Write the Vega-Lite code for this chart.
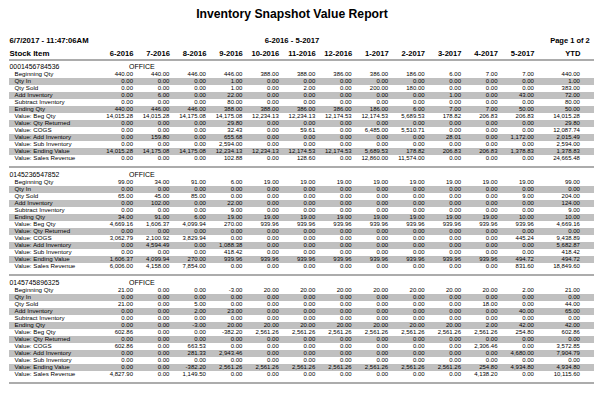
{
"$schema":"https://vega.github.io/schema/vega-lite/v6.json",
"padding":{"left":8,"top":8,"right":7,"bottom":5},
"spacing":0,
"title":{"text":"Inventory Snapshot Value Report","subtitle":"6-2016 - 5-2017","anchor":"middle","dx":-9.5,"offset":-8,"font":"Liberation Sans","fontSize":12.2,"fontWeight":"bold","color":"#000","subtitleFont":"Liberation Sans","subtitleFontSize":7.7,"subtitleFontWeight":"bold","subtitleColor":"#000","subtitlePadding":16.5},
"config":{"view":{"stroke":null},"locale":{"number":{"decimal":".","thousands":",","grouping":[3],"currency":["$",""],"minus":"-"}}},
"datasets":{
"item1":[
{"metric":"Beginning Qty","month":"6-2016","value":440},{"metric":"Beginning Qty","month":"7-2016","value":440},{"metric":"Beginning Qty","month":"8-2016","value":446},{"metric":"Beginning Qty","month":"9-2016","value":446},{"metric":"Beginning Qty","month":"10-2016","value":388},{"metric":"Beginning Qty","month":"11-2016","value":388},{"metric":"Beginning Qty","month":"12-2016","value":386},{"metric":"Beginning Qty","month":"1-2017","value":386},{"metric":"Beginning Qty","month":"2-2017","value":186},{"metric":"Beginning Qty","month":"3-2017","value":6},{"metric":"Beginning Qty","month":"4-2017","value":7},{"metric":"Beginning Qty","month":"5-2017","value":7},{"metric":"Beginning Qty","month":"YTD","value":440},
{"metric":"Qty In","month":"6-2016","value":0},{"metric":"Qty In","month":"7-2016","value":0},{"metric":"Qty In","month":"8-2016","value":0},{"metric":"Qty In","month":"9-2016","value":1},{"metric":"Qty In","month":"10-2016","value":0},{"metric":"Qty In","month":"11-2016","value":0},{"metric":"Qty In","month":"12-2016","value":0},{"metric":"Qty In","month":"1-2017","value":0},{"metric":"Qty In","month":"2-2017","value":0},{"metric":"Qty In","month":"3-2017","value":0},{"metric":"Qty In","month":"4-2017","value":0},{"metric":"Qty In","month":"5-2017","value":0},{"metric":"Qty In","month":"YTD","value":1},
{"metric":"Qty Sold","month":"6-2016","value":0},{"metric":"Qty Sold","month":"7-2016","value":0},{"metric":"Qty Sold","month":"8-2016","value":0},{"metric":"Qty Sold","month":"9-2016","value":1},{"metric":"Qty Sold","month":"10-2016","value":0},{"metric":"Qty Sold","month":"11-2016","value":2},{"metric":"Qty Sold","month":"12-2016","value":0},{"metric":"Qty Sold","month":"1-2017","value":200},{"metric":"Qty Sold","month":"2-2017","value":180},{"metric":"Qty Sold","month":"3-2017","value":0},{"metric":"Qty Sold","month":"4-2017","value":0},{"metric":"Qty Sold","month":"5-2017","value":0},{"metric":"Qty Sold","month":"YTD","value":383},
{"metric":"Add Inventory","month":"6-2016","value":0},{"metric":"Add Inventory","month":"7-2016","value":6},{"metric":"Add Inventory","month":"8-2016","value":0},{"metric":"Add Inventory","month":"9-2016","value":22},{"metric":"Add Inventory","month":"10-2016","value":0},{"metric":"Add Inventory","month":"11-2016","value":0},{"metric":"Add Inventory","month":"12-2016","value":0},{"metric":"Add Inventory","month":"1-2017","value":0},{"metric":"Add Inventory","month":"2-2017","value":0},{"metric":"Add Inventory","month":"3-2017","value":1},{"metric":"Add Inventory","month":"4-2017","value":0},{"metric":"Add Inventory","month":"5-2017","value":43},{"metric":"Add Inventory","month":"YTD","value":72},
{"metric":"Subtract Inventory","month":"6-2016","value":0},{"metric":"Subtract Inventory","month":"7-2016","value":0},{"metric":"Subtract Inventory","month":"8-2016","value":0},{"metric":"Subtract Inventory","month":"9-2016","value":80},{"metric":"Subtract Inventory","month":"10-2016","value":0},{"metric":"Subtract Inventory","month":"11-2016","value":0},{"metric":"Subtract Inventory","month":"12-2016","value":0},{"metric":"Subtract Inventory","month":"1-2017","value":0},{"metric":"Subtract Inventory","month":"2-2017","value":0},{"metric":"Subtract Inventory","month":"3-2017","value":0},{"metric":"Subtract Inventory","month":"4-2017","value":0},{"metric":"Subtract Inventory","month":"5-2017","value":0},{"metric":"Subtract Inventory","month":"YTD","value":80},
{"metric":"Ending Qty","month":"6-2016","value":440},{"metric":"Ending Qty","month":"7-2016","value":446},{"metric":"Ending Qty","month":"8-2016","value":446},{"metric":"Ending Qty","month":"9-2016","value":388},{"metric":"Ending Qty","month":"10-2016","value":388},{"metric":"Ending Qty","month":"11-2016","value":386},{"metric":"Ending Qty","month":"12-2016","value":386},{"metric":"Ending Qty","month":"1-2017","value":186},{"metric":"Ending Qty","month":"2-2017","value":6},{"metric":"Ending Qty","month":"3-2017","value":7},{"metric":"Ending Qty","month":"4-2017","value":7},{"metric":"Ending Qty","month":"5-2017","value":50},{"metric":"Ending Qty","month":"YTD","value":50},
{"metric":"Value: Beg Qty","month":"6-2016","value":14015.28},{"metric":"Value: Beg Qty","month":"7-2016","value":14015.28},{"metric":"Value: Beg Qty","month":"8-2016","value":14175.08},{"metric":"Value: Beg Qty","month":"9-2016","value":14175.08},{"metric":"Value: Beg Qty","month":"10-2016","value":12234.13},{"metric":"Value: Beg Qty","month":"11-2016","value":12234.13},{"metric":"Value: Beg Qty","month":"12-2016","value":12174.53},{"metric":"Value: Beg Qty","month":"1-2017","value":12174.53},{"metric":"Value: Beg Qty","month":"2-2017","value":5689.53},{"metric":"Value: Beg Qty","month":"3-2017","value":178.82},{"metric":"Value: Beg Qty","month":"4-2017","value":206.83},{"metric":"Value: Beg Qty","month":"5-2017","value":206.83},{"metric":"Value: Beg Qty","month":"YTD","value":14015.28},
{"metric":"Value: Qty Returned","month":"6-2016","value":0},{"metric":"Value: Qty Returned","month":"7-2016","value":0},{"metric":"Value: Qty Returned","month":"8-2016","value":0},{"metric":"Value: Qty Returned","month":"9-2016","value":29.8},{"metric":"Value: Qty Returned","month":"10-2016","value":0},{"metric":"Value: Qty Returned","month":"11-2016","value":0},{"metric":"Value: Qty Returned","month":"12-2016","value":0},{"metric":"Value: Qty Returned","month":"1-2017","value":0},{"metric":"Value: Qty Returned","month":"2-2017","value":0},{"metric":"Value: Qty Returned","month":"3-2017","value":0},{"metric":"Value: Qty Returned","month":"4-2017","value":0},{"metric":"Value: Qty Returned","month":"5-2017","value":0},{"metric":"Value: Qty Returned","month":"YTD","value":29.8},
{"metric":"Value: COGS","month":"6-2016","value":0},{"metric":"Value: COGS","month":"7-2016","value":0},{"metric":"Value: COGS","month":"8-2016","value":0},{"metric":"Value: COGS","month":"9-2016","value":32.43},{"metric":"Value: COGS","month":"10-2016","value":0},{"metric":"Value: COGS","month":"11-2016","value":59.61},{"metric":"Value: COGS","month":"12-2016","value":0},{"metric":"Value: COGS","month":"1-2017","value":6485},{"metric":"Value: COGS","month":"2-2017","value":5510.71},{"metric":"Value: COGS","month":"3-2017","value":0},{"metric":"Value: COGS","month":"4-2017","value":0},{"metric":"Value: COGS","month":"5-2017","value":0},{"metric":"Value: COGS","month":"YTD","value":12087.74},
{"metric":"Value: Add Inventory","month":"6-2016","value":0},{"metric":"Value: Add Inventory","month":"7-2016","value":159.8},{"metric":"Value: Add Inventory","month":"8-2016","value":0},{"metric":"Value: Add Inventory","month":"9-2016","value":655.68},{"metric":"Value: Add Inventory","month":"10-2016","value":0},{"metric":"Value: Add Inventory","month":"11-2016","value":0},{"metric":"Value: Add Inventory","month":"12-2016","value":0},{"metric":"Value: Add Inventory","month":"1-2017","value":0},{"metric":"Value: Add Inventory","month":"2-2017","value":0},{"metric":"Value: Add Inventory","month":"3-2017","value":28.01},{"metric":"Value: Add Inventory","month":"4-2017","value":0},{"metric":"Value: Add Inventory","month":"5-2017","value":1172},{"metric":"Value: Add Inventory","month":"YTD","value":2015.49},
{"metric":"Value: Sub Inventory","month":"6-2016","value":0},{"metric":"Value: Sub Inventory","month":"7-2016","value":0},{"metric":"Value: Sub Inventory","month":"8-2016","value":0},{"metric":"Value: Sub Inventory","month":"9-2016","value":2594},{"metric":"Value: Sub Inventory","month":"10-2016","value":0},{"metric":"Value: Sub Inventory","month":"11-2016","value":0},{"metric":"Value: Sub Inventory","month":"12-2016","value":0},{"metric":"Value: Sub Inventory","month":"1-2017","value":0},{"metric":"Value: Sub Inventory","month":"2-2017","value":0},{"metric":"Value: Sub Inventory","month":"3-2017","value":0},{"metric":"Value: Sub Inventory","month":"4-2017","value":0},{"metric":"Value: Sub Inventory","month":"5-2017","value":0},{"metric":"Value: Sub Inventory","month":"YTD","value":2594},
{"metric":"Value: Ending Value","month":"6-2016","value":14015.28},{"metric":"Value: Ending Value","month":"7-2016","value":14175.08},{"metric":"Value: Ending Value","month":"8-2016","value":14175.08},{"metric":"Value: Ending Value","month":"9-2016","value":12234.13},{"metric":"Value: Ending Value","month":"10-2016","value":12234.13},{"metric":"Value: Ending Value","month":"11-2016","value":12174.53},{"metric":"Value: Ending Value","month":"12-2016","value":12174.53},{"metric":"Value: Ending Value","month":"1-2017","value":5689.53},{"metric":"Value: Ending Value","month":"2-2017","value":178.82},{"metric":"Value: Ending Value","month":"3-2017","value":206.83},{"metric":"Value: Ending Value","month":"4-2017","value":206.83},{"metric":"Value: Ending Value","month":"5-2017","value":1378.83},{"metric":"Value: Ending Value","month":"YTD","value":1378.83},
{"metric":"Value: Sales Revenue","month":"6-2016","value":0},{"metric":"Value: Sales Revenue","month":"7-2016","value":0},{"metric":"Value: Sales Revenue","month":"8-2016","value":0},{"metric":"Value: Sales Revenue","month":"9-2016","value":102.88},{"metric":"Value: Sales Revenue","month":"10-2016","value":0},{"metric":"Value: Sales Revenue","month":"11-2016","value":128.6},{"metric":"Value: Sales Revenue","month":"12-2016","value":0},{"metric":"Value: Sales Revenue","month":"1-2017","value":12860},{"metric":"Value: Sales Revenue","month":"2-2017","value":11574},{"metric":"Value: Sales Revenue","month":"3-2017","value":0},{"metric":"Value: Sales Revenue","month":"4-2017","value":0},{"metric":"Value: Sales Revenue","month":"5-2017","value":0},{"metric":"Value: Sales Revenue","month":"YTD","value":24665.48}
],
"item2":[
{"metric":"Beginning Qty","month":"6-2016","value":99},{"metric":"Beginning Qty","month":"7-2016","value":34},{"metric":"Beginning Qty","month":"8-2016","value":91},{"metric":"Beginning Qty","month":"9-2016","value":6},{"metric":"Beginning Qty","month":"10-2016","value":19},{"metric":"Beginning Qty","month":"11-2016","value":19},{"metric":"Beginning Qty","month":"12-2016","value":19},{"metric":"Beginning Qty","month":"1-2017","value":19},{"metric":"Beginning Qty","month":"2-2017","value":19},{"metric":"Beginning Qty","month":"3-2017","value":19},{"metric":"Beginning Qty","month":"4-2017","value":19},{"metric":"Beginning Qty","month":"5-2017","value":19},{"metric":"Beginning Qty","month":"YTD","value":99},
{"metric":"Qty In","month":"6-2016","value":0},{"metric":"Qty In","month":"7-2016","value":0},{"metric":"Qty In","month":"8-2016","value":0},{"metric":"Qty In","month":"9-2016","value":0},{"metric":"Qty In","month":"10-2016","value":0},{"metric":"Qty In","month":"11-2016","value":0},{"metric":"Qty In","month":"12-2016","value":0},{"metric":"Qty In","month":"1-2017","value":0},{"metric":"Qty In","month":"2-2017","value":0},{"metric":"Qty In","month":"3-2017","value":0},{"metric":"Qty In","month":"4-2017","value":0},{"metric":"Qty In","month":"5-2017","value":0},{"metric":"Qty In","month":"YTD","value":0},
{"metric":"Qty Sold","month":"6-2016","value":65},{"metric":"Qty Sold","month":"7-2016","value":45},{"metric":"Qty Sold","month":"8-2016","value":85},{"metric":"Qty Sold","month":"9-2016","value":0},{"metric":"Qty Sold","month":"10-2016","value":0},{"metric":"Qty Sold","month":"11-2016","value":0},{"metric":"Qty Sold","month":"12-2016","value":0},{"metric":"Qty Sold","month":"1-2017","value":0},{"metric":"Qty Sold","month":"2-2017","value":0},{"metric":"Qty Sold","month":"3-2017","value":0},{"metric":"Qty Sold","month":"4-2017","value":0},{"metric":"Qty Sold","month":"5-2017","value":9},{"metric":"Qty Sold","month":"YTD","value":204},
{"metric":"Add Inventory","month":"6-2016","value":0},{"metric":"Add Inventory","month":"7-2016","value":102},{"metric":"Add Inventory","month":"8-2016","value":0},{"metric":"Add Inventory","month":"9-2016","value":22},{"metric":"Add Inventory","month":"10-2016","value":0},{"metric":"Add Inventory","month":"11-2016","value":0},{"metric":"Add Inventory","month":"12-2016","value":0},{"metric":"Add Inventory","month":"1-2017","value":0},{"metric":"Add Inventory","month":"2-2017","value":0},{"metric":"Add Inventory","month":"3-2017","value":0},{"metric":"Add Inventory","month":"4-2017","value":0},{"metric":"Add Inventory","month":"5-2017","value":0},{"metric":"Add Inventory","month":"YTD","value":124},
{"metric":"Subtract Inventory","month":"6-2016","value":0},{"metric":"Subtract Inventory","month":"7-2016","value":0},{"metric":"Subtract Inventory","month":"8-2016","value":0},{"metric":"Subtract Inventory","month":"9-2016","value":9},{"metric":"Subtract Inventory","month":"10-2016","value":0},{"metric":"Subtract Inventory","month":"11-2016","value":0},{"metric":"Subtract Inventory","month":"12-2016","value":0},{"metric":"Subtract Inventory","month":"1-2017","value":0},{"metric":"Subtract Inventory","month":"2-2017","value":0},{"metric":"Subtract Inventory","month":"3-2017","value":0},{"metric":"Subtract Inventory","month":"4-2017","value":0},{"metric":"Subtract Inventory","month":"5-2017","value":0},{"metric":"Subtract Inventory","month":"YTD","value":9},
{"metric":"Ending Qty","month":"6-2016","value":34},{"metric":"Ending Qty","month":"7-2016","value":91},{"metric":"Ending Qty","month":"8-2016","value":6},{"metric":"Ending Qty","month":"9-2016","value":19},{"metric":"Ending Qty","month":"10-2016","value":19},{"metric":"Ending Qty","month":"11-2016","value":19},{"metric":"Ending Qty","month":"12-2016","value":19},{"metric":"Ending Qty","month":"1-2017","value":19},{"metric":"Ending Qty","month":"2-2017","value":19},{"metric":"Ending Qty","month":"3-2017","value":19},{"metric":"Ending Qty","month":"4-2017","value":19},{"metric":"Ending Qty","month":"5-2017","value":10},{"metric":"Ending Qty","month":"YTD","value":10},
{"metric":"Value: Beg Qty","month":"6-2016","value":4669.16},{"metric":"Value: Beg Qty","month":"7-2016","value":1606.37},{"metric":"Value: Beg Qty","month":"8-2016","value":4099.94},{"metric":"Value: Beg Qty","month":"9-2016","value":270},{"metric":"Value: Beg Qty","month":"10-2016","value":939.96},{"metric":"Value: Beg Qty","month":"11-2016","value":939.96},{"metric":"Value: Beg Qty","month":"12-2016","value":939.96},{"metric":"Value: Beg Qty","month":"1-2017","value":939.96},{"metric":"Value: Beg Qty","month":"2-2017","value":939.96},{"metric":"Value: Beg Qty","month":"3-2017","value":939.96},{"metric":"Value: Beg Qty","month":"4-2017","value":939.96},{"metric":"Value: Beg Qty","month":"5-2017","value":939.96},{"metric":"Value: Beg Qty","month":"YTD","value":4669.16},
{"metric":"Value: Qty Returned","month":"6-2016","value":0},{"metric":"Value: Qty Returned","month":"7-2016","value":0},{"metric":"Value: Qty Returned","month":"8-2016","value":0},{"metric":"Value: Qty Returned","month":"9-2016","value":0},{"metric":"Value: Qty Returned","month":"10-2016","value":0},{"metric":"Value: Qty Returned","month":"11-2016","value":0},{"metric":"Value: Qty Returned","month":"12-2016","value":0},{"metric":"Value: Qty Returned","month":"1-2017","value":0},{"metric":"Value: Qty Returned","month":"2-2017","value":0},{"metric":"Value: Qty Returned","month":"3-2017","value":0},{"metric":"Value: Qty Returned","month":"4-2017","value":0},{"metric":"Value: Qty Returned","month":"5-2017","value":0},{"metric":"Value: Qty Returned","month":"YTD","value":0},
{"metric":"Value: COGS","month":"6-2016","value":3062.79},{"metric":"Value: COGS","month":"7-2016","value":2100.92},{"metric":"Value: COGS","month":"8-2016","value":3829.94},{"metric":"Value: COGS","month":"9-2016","value":0},{"metric":"Value: COGS","month":"10-2016","value":0},{"metric":"Value: COGS","month":"11-2016","value":0},{"metric":"Value: COGS","month":"12-2016","value":0},{"metric":"Value: COGS","month":"1-2017","value":0},{"metric":"Value: COGS","month":"2-2017","value":0},{"metric":"Value: COGS","month":"3-2017","value":0},{"metric":"Value: COGS","month":"4-2017","value":0},{"metric":"Value: COGS","month":"5-2017","value":445.24},{"metric":"Value: COGS","month":"YTD","value":9438.89},
{"metric":"Value: Add Inventory","month":"6-2016","value":0},{"metric":"Value: Add Inventory","month":"7-2016","value":4594.49},{"metric":"Value: Add Inventory","month":"8-2016","value":0},{"metric":"Value: Add Inventory","month":"9-2016","value":1088.38},{"metric":"Value: Add Inventory","month":"10-2016","value":0},{"metric":"Value: Add Inventory","month":"11-2016","value":0},{"metric":"Value: Add Inventory","month":"12-2016","value":0},{"metric":"Value: Add Inventory","month":"1-2017","value":0},{"metric":"Value: Add Inventory","month":"2-2017","value":0},{"metric":"Value: Add Inventory","month":"3-2017","value":0},{"metric":"Value: Add Inventory","month":"4-2017","value":0},{"metric":"Value: Add Inventory","month":"5-2017","value":0},{"metric":"Value: Add Inventory","month":"YTD","value":5682.87},
{"metric":"Value: Sub Inventory","month":"6-2016","value":0},{"metric":"Value: Sub Inventory","month":"7-2016","value":0},{"metric":"Value: Sub Inventory","month":"8-2016","value":0},{"metric":"Value: Sub Inventory","month":"9-2016","value":418.42},{"metric":"Value: Sub Inventory","month":"10-2016","value":0},{"metric":"Value: Sub Inventory","month":"11-2016","value":0},{"metric":"Value: Sub Inventory","month":"12-2016","value":0},{"metric":"Value: Sub Inventory","month":"1-2017","value":0},{"metric":"Value: Sub Inventory","month":"2-2017","value":0},{"metric":"Value: Sub Inventory","month":"3-2017","value":0},{"metric":"Value: Sub Inventory","month":"4-2017","value":0},{"metric":"Value: Sub Inventory","month":"5-2017","value":0},{"metric":"Value: Sub Inventory","month":"YTD","value":418.42},
{"metric":"Value: Ending Value","month":"6-2016","value":1606.37},{"metric":"Value: Ending Value","month":"7-2016","value":4099.94},{"metric":"Value: Ending Value","month":"8-2016","value":270},{"metric":"Value: Ending Value","month":"9-2016","value":939.96},{"metric":"Value: Ending Value","month":"10-2016","value":939.96},{"metric":"Value: Ending Value","month":"11-2016","value":939.96},{"metric":"Value: Ending Value","month":"12-2016","value":939.96},{"metric":"Value: Ending Value","month":"1-2017","value":939.96},{"metric":"Value: Ending Value","month":"2-2017","value":939.96},{"metric":"Value: Ending Value","month":"3-2017","value":939.96},{"metric":"Value: Ending Value","month":"4-2017","value":939.96},{"metric":"Value: Ending Value","month":"5-2017","value":494.72},{"metric":"Value: Ending Value","month":"YTD","value":494.72},
{"metric":"Value: Sales Revenue","month":"6-2016","value":6006},{"metric":"Value: Sales Revenue","month":"7-2016","value":4158},{"metric":"Value: Sales Revenue","month":"8-2016","value":7854},{"metric":"Value: Sales Revenue","month":"9-2016","value":0},{"metric":"Value: Sales Revenue","month":"10-2016","value":0},{"metric":"Value: Sales Revenue","month":"11-2016","value":0},{"metric":"Value: Sales Revenue","month":"12-2016","value":0},{"metric":"Value: Sales Revenue","month":"1-2017","value":0},{"metric":"Value: Sales Revenue","month":"2-2017","value":0},{"metric":"Value: Sales Revenue","month":"3-2017","value":0},{"metric":"Value: Sales Revenue","month":"4-2017","value":0},{"metric":"Value: Sales Revenue","month":"5-2017","value":831.6},{"metric":"Value: Sales Revenue","month":"YTD","value":18849.6}
],
"item3":[
{"metric":"Beginning Qty","month":"6-2016","value":21},{"metric":"Beginning Qty","month":"7-2016","value":0},{"metric":"Beginning Qty","month":"8-2016","value":0},{"metric":"Beginning Qty","month":"9-2016","value":-3},{"metric":"Beginning Qty","month":"10-2016","value":20},{"metric":"Beginning Qty","month":"11-2016","value":20},{"metric":"Beginning Qty","month":"12-2016","value":20},{"metric":"Beginning Qty","month":"1-2017","value":20},{"metric":"Beginning Qty","month":"2-2017","value":20},{"metric":"Beginning Qty","month":"3-2017","value":20},{"metric":"Beginning Qty","month":"4-2017","value":20},{"metric":"Beginning Qty","month":"5-2017","value":2},{"metric":"Beginning Qty","month":"YTD","value":21},
{"metric":"Qty In","month":"6-2016","value":0},{"metric":"Qty In","month":"7-2016","value":0},{"metric":"Qty In","month":"8-2016","value":0},{"metric":"Qty In","month":"9-2016","value":0},{"metric":"Qty In","month":"10-2016","value":0},{"metric":"Qty In","month":"11-2016","value":0},{"metric":"Qty In","month":"12-2016","value":0},{"metric":"Qty In","month":"1-2017","value":0},{"metric":"Qty In","month":"2-2017","value":0},{"metric":"Qty In","month":"3-2017","value":0},{"metric":"Qty In","month":"4-2017","value":0},{"metric":"Qty In","month":"5-2017","value":0},{"metric":"Qty In","month":"YTD","value":0},
{"metric":"Qty Sold","month":"6-2016","value":21},{"metric":"Qty Sold","month":"7-2016","value":0},{"metric":"Qty Sold","month":"8-2016","value":5},{"metric":"Qty Sold","month":"9-2016","value":0},{"metric":"Qty Sold","month":"10-2016","value":0},{"metric":"Qty Sold","month":"11-2016","value":0},{"metric":"Qty Sold","month":"12-2016","value":0},{"metric":"Qty Sold","month":"1-2017","value":0},{"metric":"Qty Sold","month":"2-2017","value":0},{"metric":"Qty Sold","month":"3-2017","value":0},{"metric":"Qty Sold","month":"4-2017","value":18},{"metric":"Qty Sold","month":"5-2017","value":0},{"metric":"Qty Sold","month":"YTD","value":44},
{"metric":"Add Inventory","month":"6-2016","value":0},{"metric":"Add Inventory","month":"7-2016","value":0},{"metric":"Add Inventory","month":"8-2016","value":2},{"metric":"Add Inventory","month":"9-2016","value":23},{"metric":"Add Inventory","month":"10-2016","value":0},{"metric":"Add Inventory","month":"11-2016","value":0},{"metric":"Add Inventory","month":"12-2016","value":0},{"metric":"Add Inventory","month":"1-2017","value":0},{"metric":"Add Inventory","month":"2-2017","value":0},{"metric":"Add Inventory","month":"3-2017","value":0},{"metric":"Add Inventory","month":"4-2017","value":0},{"metric":"Add Inventory","month":"5-2017","value":40},{"metric":"Add Inventory","month":"YTD","value":65},
{"metric":"Subtract Inventory","month":"6-2016","value":0},{"metric":"Subtract Inventory","month":"7-2016","value":0},{"metric":"Subtract Inventory","month":"8-2016","value":0},{"metric":"Subtract Inventory","month":"9-2016","value":0},{"metric":"Subtract Inventory","month":"10-2016","value":0},{"metric":"Subtract Inventory","month":"11-2016","value":0},{"metric":"Subtract Inventory","month":"12-2016","value":0},{"metric":"Subtract Inventory","month":"1-2017","value":0},{"metric":"Subtract Inventory","month":"2-2017","value":0},{"metric":"Subtract Inventory","month":"3-2017","value":0},{"metric":"Subtract Inventory","month":"4-2017","value":0},{"metric":"Subtract Inventory","month":"5-2017","value":0},{"metric":"Subtract Inventory","month":"YTD","value":0},
{"metric":"Ending Qty","month":"6-2016","value":0},{"metric":"Ending Qty","month":"7-2016","value":0},{"metric":"Ending Qty","month":"8-2016","value":-3},{"metric":"Ending Qty","month":"9-2016","value":20},{"metric":"Ending Qty","month":"10-2016","value":20},{"metric":"Ending Qty","month":"11-2016","value":20},{"metric":"Ending Qty","month":"12-2016","value":20},{"metric":"Ending Qty","month":"1-2017","value":20},{"metric":"Ending Qty","month":"2-2017","value":20},{"metric":"Ending Qty","month":"3-2017","value":20},{"metric":"Ending Qty","month":"4-2017","value":2},{"metric":"Ending Qty","month":"5-2017","value":42},{"metric":"Ending Qty","month":"YTD","value":42},
{"metric":"Value: Beg Qty","month":"6-2016","value":602.86},{"metric":"Value: Beg Qty","month":"7-2016","value":0},{"metric":"Value: Beg Qty","month":"8-2016","value":0},{"metric":"Value: Beg Qty","month":"9-2016","value":-382.2},{"metric":"Value: Beg Qty","month":"10-2016","value":2561.26},{"metric":"Value: Beg Qty","month":"11-2016","value":2561.26},{"metric":"Value: Beg Qty","month":"12-2016","value":2561.26},{"metric":"Value: Beg Qty","month":"1-2017","value":2561.26},{"metric":"Value: Beg Qty","month":"2-2017","value":2561.26},{"metric":"Value: Beg Qty","month":"3-2017","value":2561.26},{"metric":"Value: Beg Qty","month":"4-2017","value":2561.26},{"metric":"Value: Beg Qty","month":"5-2017","value":254.8},{"metric":"Value: Beg Qty","month":"YTD","value":602.86},
{"metric":"Value: Qty Returned","month":"6-2016","value":0},{"metric":"Value: Qty Returned","month":"7-2016","value":0},{"metric":"Value: Qty Returned","month":"8-2016","value":0},{"metric":"Value: Qty Returned","month":"9-2016","value":0},{"metric":"Value: Qty Returned","month":"10-2016","value":0},{"metric":"Value: Qty Returned","month":"11-2016","value":0},{"metric":"Value: Qty Returned","month":"12-2016","value":0},{"metric":"Value: Qty Returned","month":"1-2017","value":0},{"metric":"Value: Qty Returned","month":"2-2017","value":0},{"metric":"Value: Qty Returned","month":"3-2017","value":0},{"metric":"Value: Qty Returned","month":"4-2017","value":0},{"metric":"Value: Qty Returned","month":"5-2017","value":0},{"metric":"Value: Qty Returned","month":"YTD","value":0},
{"metric":"Value: COGS","month":"6-2016","value":602.86},{"metric":"Value: COGS","month":"7-2016","value":0},{"metric":"Value: COGS","month":"8-2016","value":663.53},{"metric":"Value: COGS","month":"9-2016","value":0},{"metric":"Value: COGS","month":"10-2016","value":0},{"metric":"Value: COGS","month":"11-2016","value":0},{"metric":"Value: COGS","month":"12-2016","value":0},{"metric":"Value: COGS","month":"1-2017","value":0},{"metric":"Value: COGS","month":"2-2017","value":0},{"metric":"Value: COGS","month":"3-2017","value":0},{"metric":"Value: COGS","month":"4-2017","value":2306.46},{"metric":"Value: COGS","month":"5-2017","value":0},{"metric":"Value: COGS","month":"YTD","value":3572.85},
{"metric":"Value: Add Inventory","month":"6-2016","value":0},{"metric":"Value: Add Inventory","month":"7-2016","value":0},{"metric":"Value: Add Inventory","month":"8-2016","value":281.33},{"metric":"Value: Add Inventory","month":"9-2016","value":2943.46},{"metric":"Value: Add Inventory","month":"10-2016","value":0},{"metric":"Value: Add Inventory","month":"11-2016","value":0},{"metric":"Value: Add Inventory","month":"12-2016","value":0},{"metric":"Value: Add Inventory","month":"1-2017","value":0},{"metric":"Value: Add Inventory","month":"2-2017","value":0},{"metric":"Value: Add Inventory","month":"3-2017","value":0},{"metric":"Value: Add Inventory","month":"4-2017","value":0},{"metric":"Value: Add Inventory","month":"5-2017","value":4680},{"metric":"Value: Add Inventory","month":"YTD","value":7904.79},
{"metric":"Value: Sub Inventory","month":"6-2016","value":0},{"metric":"Value: Sub Inventory","month":"7-2016","value":0},{"metric":"Value: Sub Inventory","month":"8-2016","value":0},{"metric":"Value: Sub Inventory","month":"9-2016","value":0},{"metric":"Value: Sub Inventory","month":"10-2016","value":0},{"metric":"Value: Sub Inventory","month":"11-2016","value":0},{"metric":"Value: Sub Inventory","month":"12-2016","value":0},{"metric":"Value: Sub Inventory","month":"1-2017","value":0},{"metric":"Value: Sub Inventory","month":"2-2017","value":0},{"metric":"Value: Sub Inventory","month":"3-2017","value":0},{"metric":"Value: Sub Inventory","month":"4-2017","value":0},{"metric":"Value: Sub Inventory","month":"5-2017","value":0},{"metric":"Value: Sub Inventory","month":"YTD","value":0},
{"metric":"Value: Ending Value","month":"6-2016","value":0},{"metric":"Value: Ending Value","month":"7-2016","value":0},{"metric":"Value: Ending Value","month":"8-2016","value":-382.2},{"metric":"Value: Ending Value","month":"9-2016","value":2561.26},{"metric":"Value: Ending Value","month":"10-2016","value":2561.26},{"metric":"Value: Ending Value","month":"11-2016","value":2561.26},{"metric":"Value: Ending Value","month":"12-2016","value":2561.26},{"metric":"Value: Ending Value","month":"1-2017","value":2561.26},{"metric":"Value: Ending Value","month":"2-2017","value":2561.26},{"metric":"Value: Ending Value","month":"3-2017","value":2561.26},{"metric":"Value: Ending Value","month":"4-2017","value":254.8},{"metric":"Value: Ending Value","month":"5-2017","value":4934.8},{"metric":"Value: Ending Value","month":"YTD","value":4934.8},
{"metric":"Value: Sales Revenue","month":"6-2016","value":4827.9},{"metric":"Value: Sales Revenue","month":"7-2016","value":0},{"metric":"Value: Sales Revenue","month":"8-2016","value":1149.5},{"metric":"Value: Sales Revenue","month":"9-2016","value":0},{"metric":"Value: Sales Revenue","month":"10-2016","value":0},{"metric":"Value: Sales Revenue","month":"11-2016","value":0},{"metric":"Value: Sales Revenue","month":"12-2016","value":0},{"metric":"Value: Sales Revenue","month":"1-2017","value":0},{"metric":"Value: Sales Revenue","month":"2-2017","value":0},{"metric":"Value: Sales Revenue","month":"3-2017","value":0},{"metric":"Value: Sales Revenue","month":"4-2017","value":4138.2},{"metric":"Value: Sales Revenue","month":"5-2017","value":0},{"metric":"Value: Sales Revenue","month":"YTD","value":10115.6}
]
},
"vconcat":[
{"width":585,"height":107,
"title":{"text":"Page 1 of 2","anchor":"end","offset":-8,"dx":-5,"font":"Liberation Sans","fontSize":7.5,"fontWeight":"bold","color":"#000"},
"data":{"name":"item1"},
"encoding":{"y":{"field":"metric","type":"nominal","scale":{"type":"band","domain":["0001456784536","Beginning Qty","Qty In","Qty Sold","Add Inventory","Subtract Inventory","Ending Qty","Value: Beg Qty","Value: Qty Returned","Value: COGS","Value: Add Inventory","Value: Sub Inventory","Value: Ending Value","Value: Sales Revenue"],"paddingInner":0,"paddingOuter":0.643,"align":0.444},
"axis":{"title":"Stock Item","titleAngle":0,"titleAlign":"left","titleBaseline":"alphabetic","titleX":0,"titleY":-4.5,"titleFont":"Liberation Sans","titleFontSize":7.9,"titleFontWeight":"bold","titleColor":"#000","domain":false,"ticks":false,"tickSize":0,"labelAlign":"left","labelBaseline":"middle","labelColor":"#000","labelFont":"Liberation Sans","labelPadding":{"condition":{"test":"datum.value === '0001456784536'","value":0},"value":-5},"labelFontSize":{"condition":{"test":"datum.value === '0001456784536'","value":6.9},"value":6.2}}}},
"layer":[
{"transform":[{"filter":{"and":[{"field":"month","equal":"YTD"},{"field":"metric","oneOf":["Qty In","Add Inventory","Ending Qty","Value: Qty Returned","Value: Add Inventory","Value: Ending Value"]}]}}],"mark":{"type":"rect","fill":"#c0c0c0"}},
{"data":{"values":[{}]},"mark":{"type":"rule","color":"#909090","strokeWidth":1.6},"encoding":{"y":{"datum":"0001456784536","bandPosition":-0.5714}}},
{"data":{"values":[{}]},"mark":{"type":"rule","color":"#909090","strokeWidth":1.6},"encoding":{"y":{"datum":"Value: Sales Revenue","bandPosition":1.714}}},
{"transform":[{"filter":"datum.month !== 'YTD'"}],"mark":{"type":"text","align":"right","baseline":"middle","font":"Liberation Sans","fontSize":6,"color":"#000"},
"encoding":{"x":{"field":"month","type":"nominal","scale":{"type":"point","domain":["6-2016","7-2016","8-2016","9-2016","10-2016","11-2016","12-2016","1-2017","2-2017","3-2017","4-2017","5-2017","YTD"],"range":[124,561.4],"padding":0},
"axis":{"orient":"top","title":"6/7/2017 - 11:47:06AM","titleAnchor":"start","titleAlign":"left","titleBaseline":"alphabetic","titleX":0,"titleY":-17.5,"titleFont":"Liberation Sans","titleFontSize":7.7,"titleFontWeight":"bold","titleColor":"#000","labelFont":"Liberation Sans","labelFontSize":7.6,"labelFontWeight":"bold","labelColor":"#000","labelAlign":"right","labelBaseline":"alphabetic","labelAngle":0,"labelPadding":4.5,"labelOffset":{"condition":{"test":"datum.value === 'YTD'","value":9.5},"value":0},"ticks":false,"tickSize":0,"domain":false}},
"text":{"field":"value","type":"quantitative","format":",.2f"}}},
{"transform":[{"filter":"datum.month === 'YTD'"}],"mark":{"type":"text","align":"right","baseline":"middle","font":"Liberation Sans","fontSize":6,"color":"#000","dx":9.5},
"encoding":{"x":{"field":"month","type":"nominal","scale":{"domain":["6-2016","7-2016","8-2016","9-2016","10-2016","11-2016","12-2016","1-2017","2-2017","3-2017","4-2017","5-2017","YTD"]}},
"text":{"field":"value","type":"quantitative","format":",.2f"}}},
{"data":{"values":[{"item":"0001456784536","location":"OFFICE"}]},"mark":{"type":"text","align":"left","baseline":"middle","dx":-4,"font":"Liberation Sans","fontSize":7,"color":"#000"},
"encoding":{"x":{"datum":"6-2016","type":"nominal"},"y":{"field":"item","type":"nominal"},"text":{"field":"location"}}}
]},
{"width":585,"height":107,
"data":{"name":"item2"},
"encoding":{"y":{"field":"metric","type":"nominal","scale":{"type":"band","domain":["0145236547852","Beginning Qty","Qty In","Qty Sold","Add Inventory","Subtract Inventory","Ending Qty","Value: Beg Qty","Value: Qty Returned","Value: COGS","Value: Add Inventory","Value: Sub Inventory","Value: Ending Value","Value: Sales Revenue"],"paddingInner":0,"paddingOuter":0.643,"align":0.444},
"axis":{"title":null,"domain":false,"ticks":false,"tickSize":0,"labelAlign":"left","labelBaseline":"middle","labelColor":"#000","labelFont":"Liberation Sans","labelPadding":{"condition":{"test":"datum.value === '0145236547852'","value":0},"value":-5},"labelFontSize":{"condition":{"test":"datum.value === '0145236547852'","value":6.9},"value":6.2}}}},
"layer":[
{"transform":[{"filter":{"and":[{"field":"month","equal":"YTD"},{"field":"metric","oneOf":["Qty In","Add Inventory","Ending Qty","Value: Qty Returned","Value: Add Inventory","Value: Ending Value"]}]}}],"mark":{"type":"rect","fill":"#c0c0c0"}},
{"data":{"values":[{}]},"mark":{"type":"rule","color":"#909090","strokeWidth":1.6},"encoding":{"y":{"datum":"Value: Sales Revenue","bandPosition":1.714}}},
{"transform":[{"filter":"datum.month !== 'YTD'"}],"mark":{"type":"text","align":"right","baseline":"middle","font":"Liberation Sans","fontSize":6,"color":"#000"},
"encoding":{"x":{"field":"month","type":"nominal","scale":{"type":"point","domain":["6-2016","7-2016","8-2016","9-2016","10-2016","11-2016","12-2016","1-2017","2-2017","3-2017","4-2017","5-2017","YTD"],"range":[124,561.4],"padding":0},"axis":null},
"text":{"field":"value","type":"quantitative","format":",.2f"}}},
{"transform":[{"filter":"datum.month === 'YTD'"}],"mark":{"type":"text","align":"right","baseline":"middle","font":"Liberation Sans","fontSize":6,"color":"#000","dx":9.5},
"encoding":{"x":{"field":"month","type":"nominal","scale":{"domain":["6-2016","7-2016","8-2016","9-2016","10-2016","11-2016","12-2016","1-2017","2-2017","3-2017","4-2017","5-2017","YTD"]},"axis":null},
"text":{"field":"value","type":"quantitative","format":",.2f"}}},
{"data":{"values":[{"item":"0145236547852","location":"OFFICE"}]},"mark":{"type":"text","align":"left","baseline":"middle","dx":-4,"font":"Liberation Sans","fontSize":7,"color":"#000"},
"encoding":{"x":{"datum":"6-2016","type":"nominal","axis":null},"y":{"field":"item","type":"nominal"},"text":{"field":"location"}}}
]},
{"width":585,"height":107,
"data":{"name":"item3"},
"encoding":{"y":{"field":"metric","type":"nominal","scale":{"type":"band","domain":["0145745896325","Beginning Qty","Qty In","Qty Sold","Add Inventory","Subtract Inventory","Ending Qty","Value: Beg Qty","Value: Qty Returned","Value: COGS","Value: Add Inventory","Value: Sub Inventory","Value: Ending Value","Value: Sales Revenue"],"paddingInner":0,"paddingOuter":0.643,"align":0.444},
"axis":{"title":null,"domain":false,"ticks":false,"tickSize":0,"labelAlign":"left","labelBaseline":"middle","labelColor":"#000","labelFont":"Liberation Sans","labelPadding":{"condition":{"test":"datum.value === '0145745896325'","value":0},"value":-5},"labelFontSize":{"condition":{"test":"datum.value === '0145745896325'","value":6.9},"value":6.2}}}},
"layer":[
{"transform":[{"filter":{"and":[{"field":"month","equal":"YTD"},{"field":"metric","oneOf":["Qty In","Add Inventory","Ending Qty","Value: Qty Returned","Value: Add Inventory","Value: Ending Value"]}]}}],"mark":{"type":"rect","fill":"#c0c0c0"}},
{"data":{"values":[{}]},"mark":{"type":"rule","color":"#909090","strokeWidth":1.6},"encoding":{"y":{"datum":"Value: Sales Revenue","bandPosition":1.714}}},
{"transform":[{"filter":"datum.month !== 'YTD'"}],"mark":{"type":"text","align":"right","baseline":"middle","font":"Liberation Sans","fontSize":6,"color":"#000"},
"encoding":{"x":{"field":"month","type":"nominal","scale":{"type":"point","domain":["6-2016","7-2016","8-2016","9-2016","10-2016","11-2016","12-2016","1-2017","2-2017","3-2017","4-2017","5-2017","YTD"],"range":[124,561.4],"padding":0},"axis":null},
"text":{"field":"value","type":"quantitative","format":",.2f"}}},
{"transform":[{"filter":"datum.month === 'YTD'"}],"mark":{"type":"text","align":"right","baseline":"middle","font":"Liberation Sans","fontSize":6,"color":"#000","dx":9.5},
"encoding":{"x":{"field":"month","type":"nominal","scale":{"domain":["6-2016","7-2016","8-2016","9-2016","10-2016","11-2016","12-2016","1-2017","2-2017","3-2017","4-2017","5-2017","YTD"]},"axis":null},
"text":{"field":"value","type":"quantitative","format":",.2f"}}},
{"data":{"values":[{"item":"0145745896325","location":"OFFICE"}]},"mark":{"type":"text","align":"left","baseline":"middle","dx":-4,"font":"Liberation Sans","fontSize":7,"color":"#000"},
"encoding":{"x":{"datum":"6-2016","type":"nominal","axis":null},"y":{"field":"item","type":"nominal"},"text":{"field":"location"}}}
]}
]
}
